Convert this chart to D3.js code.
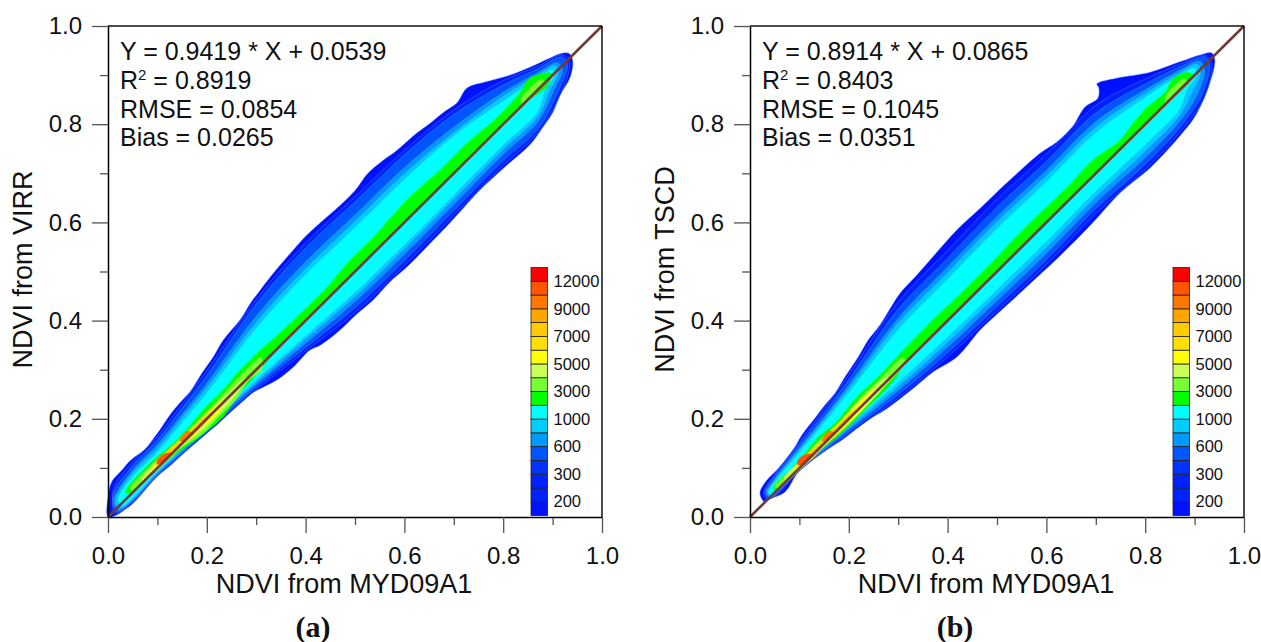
<!DOCTYPE html>
<html>
<head>
<meta charset="utf-8">
<style>
body { margin: 0; background: white; }
text { font-family: "Liberation Sans", Arial, sans-serif; fill: #111; }
</style>
<script src="https://cdn.jsdelivr.net/npm/d3@7"></script>
</head>
<body>
<div id="chart"></div>
<script>
// colour key, bottom cell first
var levels = [100, 200, 250, 300, 450, 600, 800, 1000, 2000, 3000, 4000, 5000, 6000, 7000, 8000, 9000, 10500, 12000];
var levelColors = ["#0011ff", "#0022ff", "#0022ff", "#0033ff", "#0055ff", "#0099ff", "#00ccff", "#00ffff", "#00ff00",
	"#77ff33", "#ccff55", "#ffff00", "#ffe000", "#ffcc00", "#ffa500", "#ff7700", "#ff5500", "#ff0000"];
var keyLabels = [200, 300, 600, 1000, 3000, 5000, 7000, 9000, 12000];
var majorTicks = [0, 0.2, 0.4, 0.6, 0.8, 1];
var minorTicks = [0.1, 0.3, 0.5, 0.7, 0.9];

// panel a contours as [MYD09A1, VIRR]
var a100 = [[0,0],[0,.041],[.0075,.072],[.018,.085],[.031,.099],[.042,.112],[.055,.123],[.075,.138],[.092,.16],[.108,.182],[.1255,.208],[.145,.232],[.166,.255],[.19,.293],[.213,.326],[.233,.36],[.267,.401],[.288,.435],[.308,.462],[.34,.503],[.375,.544],[.4,.572],[.429,.599],[.47,.635],[.5,.665],[.526,.7],[.555,.725],[.585,.747],[.625,.782],[.652,.802],[.68,.825],[.706,.843],[.727,.874],[.763,.886],[.814,.9],[.854,.916],[.895,.935],[.921,.945],[.935,.943],[.941,.927],[.935,.894],[.915,.859],[.901,.825],[.879,.792],[.854,.758],[.8,.71],[.753,.666],[.72,.63],[.692,.599],[.65,.555],[.605,.509],[.57,.478],[.537,.442],[.5,.41],[.47,.381],[.43,.35],[.409,.34],[.375,.305],[.342,.279],[.31,.262],[.274,.242],[.245,.212],[.22,.187],[.19,.165],[.166,.143],[.13,.108],[.099,.082],[.075,.055],[.051,.028],[.03,.012],[.018,.004]];
var a250 = [[.012,.06],[.05,.112],[.1,.164],[.15,.231],[.2,.298],[.3,.443],[.4,.558],[.5,.652],[.6,.747],[.7,.829],[.8,.889],[.87,.918],[.92,.941],[.934,.925],[.92,.87],[.87,.782],[.8,.716],[.7,.614],[.6,.512],[.5,.416],[.4,.338],[.3,.259],[.2,.17],[.15,.127],[.1,.084],[.05,.03],[.015,.006]];
var a450 = [[.01,.045],[.05,.105],[.1,.157],[.15,.222],[.2,.288],[.3,.434],[.4,.548],[.5,.642],[.6,.738],[.7,.82],[.8,.88],[.87,.913],[.92,.937],[.93,.92],[.915,.875],[.87,.79],[.8,.726],[.7,.624],[.6,.522],[.5,.426],[.4,.345],[.3,.264],[.2,.174],[.15,.13],[.1,.086],[.05,.032],[.018,.01]];
var a600 = [[.012,.035],[.05,.095],[.1,.147],[.15,.209],[.2,.272],[.3,.409],[.4,.52],[.5,.615],[.6,.712],[.7,.794],[.8,.865],[.87,.905],[.91,.925],[.92,.91],[.905,.875],[.87,.805],[.8,.739],[.7,.637],[.6,.535],[.5,.439],[.4,.354],[.3,.27],[.2,.178],[.15,.133],[.1,.088],[.05,.034],[.02,.014]];
var a800 = [[.015,.033],[.05,.09],[.1,.14],[.15,.202],[.2,.263],[.3,.396],[.4,.506],[.5,.602],[.6,.699],[.7,.783],[.8,.857],[.87,.9],[.905,.92],[.912,.905],[.895,.87],[.87,.815],[.8,.749],[.7,.647],[.6,.546],[.5,.449],[.4,.362],[.3,.275],[.2,.182],[.15,.136],[.1,.09],[.05,.036],[.025,.018]];
var a1000 = [[.02,.035],[.05,.083],[.1,.133],[.15,.193],[.2,.253],[.3,.385],[.4,.494],[.5,.59],[.6,.688],[.7,.777],[.8,.848],[.87,.893],[.9,.912],[.905,.9],[.885,.868],[.87,.825],[.8,.757],[.7,.655],[.6,.554],[.5,.457],[.4,.368],[.3,.279],[.2,.185],[.15,.138],[.1,.092],[.05,.039],[.03,.022]];
var a2000 = [[.035,.05],[.04,.061],[.085,.11],[.132,.15],[.166,.187],[.192,.218],[.233,.259],[.261,.293],[.308,.34],[.354,.381],[.403,.428],[.443,.468],[.484,.517],[.537,.57],[.605,.646],[.672,.707],[.723,.758],[.753,.784],[.787,.813],[.834,.865],[.854,.894],[.898,.904],[.891,.88],[.85,.846],[.7,.697],[.5,.497],[.35,.347],[.294,.283],[.267,.252],[.233,.204],[.186,.163],[.14,.13],[.099,.096],[.045,.049]];
var a3000lo = [[.045,.058],[.085,.104],[.13,.145],[.166,.18],[.2,.215],[.233,.25],[.27,.29],[.31,.325],[.312,.3],[.285,.278],[.26,.24],[.23,.21],[.19,.168],[.14,.135],[.1,.1],[.05,.052]];
var a3000hi = [[.835,.85],[.855,.875],[.878,.892],[.885,.885],[.86,.858],[.84,.84]];
var a4000 = [[.07,.082],[.11,.125],[.15,.16],[.19,.2],[.23,.24],[.28,.285],[.26,.25],[.2,.185],[.16,.152],[.11,.108],[.07,.072]];
var a5000 = [[.09,.098],[.12,.133],[.16,.168],[.2,.21],[.235,.24],[.225,.215],[.18,.172],[.13,.126],[.09,.09]];
var a7000 = [[.095,.105],[.12,.135],[.15,.16],[.19,.2],[.21,.215],[.2,.195],[.15,.145],[.12,.115]];
var a9000lo = [[.1,.11],[.12,.13],[.13,.13],[.115,.113]];
var a9000hi = [[.145,.155],[.16,.175],[.17,.172],[.158,.158]];
var a10500 = [[.098,.113],[.112,.128],[.125,.13],[.115,.115],[.1,.107]];

// panel b contours, [MYD09A1, TSCD]
var b100 = [[.03,.03],[.02,.048],[.03,.07],[.057,.099],[.075,.12],[.091,.143],[.105,.167],[.132,.202],[.15,.226],[.172,.252],[.192,.285],[.219,.326],[.239,.36],[.263,.391],[.304,.456],[.335,.49],[.364,.523],[.419,.585],[.466,.629],[.5,.662],[.532,.692],[.587,.741],[.621,.764],[.652,.794],[.678,.835],[.704,.853],[.706,.874],[.702,.882],[.743,.894],[.81,.906],[.87,.927],[.911,.941],[.935,.945],[.941,.931],[.931,.884],[.905,.823],[.877,.784],[.81,.711],[.749,.66],[.69,.595],[.634,.538],[.553,.462],[.5,.413],[.466,.381],[.419,.326],[.37,.295],[.334,.265],[.273,.218],[.239,.198],[.192,.161],[.146,.13],[.097,.09],[.071,.051],[.036,.035]];
var b250 = [[.028,.05],[.05,.087],[.1,.153],[.15,.22],[.2,.29],[.3,.438],[.4,.543],[.5,.647],[.6,.739],[.7,.838],[.8,.892],[.87,.922],[.92,.941],[.934,.925],[.92,.855],[.87,.783],[.8,.707],[.7,.618],[.6,.514],[.5,.419],[.4,.326],[.3,.242],[.2,.169],[.15,.134],[.1,.094],[.05,.042],[.035,.036]];
var b450 = [[.03,.05],[.05,.083],[.1,.148],[.15,.212],[.2,.28],[.3,.423],[.4,.527],[.5,.631],[.6,.724],[.7,.823],[.8,.882],[.87,.917],[.92,.937],[.93,.92],[.915,.86],[.87,.793],[.8,.718],[.7,.628],[.6,.524],[.5,.429],[.4,.334],[.3,.249],[.2,.173],[.15,.136],[.1,.095],[.05,.044],[.037,.038]];
var b600 = [[.033,.05],[.05,.078],[.1,.141],[.15,.203],[.2,.269],[.3,.405],[.4,.509],[.5,.612],[.6,.706],[.7,.805],[.8,.87],[.87,.91],[.91,.928],[.92,.91],[.905,.86],[.87,.806],[.8,.732],[.7,.64],[.6,.537],[.5,.441],[.4,.346],[.3,.258],[.2,.178],[.15,.138],[.1,.096],[.05,.046],[.04,.04]];
var b800 = [[.035,.05],[.05,.075],[.1,.137],[.15,.198],[.2,.262],[.3,.395],[.4,.498],[.5,.601],[.6,.695],[.7,.794],[.8,.863],[.87,.905],[.905,.922],[.912,.905],[.895,.865],[.87,.818],[.8,.745],[.7,.652],[.6,.549],[.5,.452],[.4,.356],[.3,.266],[.2,.182],[.15,.141],[.1,.097],[.05,.047],[.042,.042]];
var b1000 = [[.037,.05],[.05,.072],[.1,.132],[.15,.192],[.2,.254],[.3,.382],[.4,.485],[.5,.588],[.6,.683],[.7,.783],[.8,.855],[.87,.9],[.9,.915],[.905,.9],[.885,.87],[.87,.83],[.8,.758],[.7,.663],[.6,.561],[.5,.463],[.4,.366],[.3,.274],[.2,.186],[.15,.143],[.1,.098],[.05,.048],[.043,.044]];
var b2000 = [[.047,.061],[.097,.112],[.138,.163],[.172,.191],[.219,.248],[.259,.285],[.304,.334],[.344,.375],[.391,.422],[.439,.468],[.48,.509],[.532,.564],[.587,.619],[.642,.672],[.694,.727],[.749,.768],[.775,.802],[.804,.835],[.838,.863],[.858,.894],[.885,.906],[.897,.9],[.89,.885],[.85,.846],[.7,.697],[.5,.497],[.35,.347],[.32,.32],[.287,.273],[.239,.224],[.186,.171],[.138,.132],[.097,.092],[.05,.055]];
var b3000lo = [[.05,.062],[.1,.112],[.14,.157],[.175,.187],[.22,.24],[.26,.278],[.31,.325],[.315,.315],[.285,.278],[.24,.23],[.19,.178],[.14,.137],[.1,.097],[.055,.058]];
var b3000hi = [[.84,.855],[.858,.878],[.88,.893],[.885,.885],[.86,.858],[.842,.84]];
var b4000 = [[.07,.082],[.11,.122],[.15,.163],[.19,.203],[.23,.245],[.28,.288],[.27,.265],[.21,.2],[.16,.155],[.11,.107],[.07,.07]];
var b5000 = [[.09,.1],[.12,.13],[.16,.17],[.2,.213],[.25,.258],[.24,.235],[.19,.182],[.13,.125],[.09,.09]];
var b7000 = [[.095,.105],[.12,.133],[.15,.16],[.19,.2],[.215,.22],[.205,.2],[.15,.145],[.12,.113]];
var b9000lo = [[.1,.11],[.118,.128],[.13,.128],[.115,.112]];
var b9000hi = [[.145,.155],[.16,.175],[.17,.172],[.158,.158]];
var b10500 = [[.095,.113],[.11,.127],[.123,.128],[.112,.112],[.098,.105]];

// regression text
var statsA = ["Y = 0.9419 * X + 0.0539", "0.8919", "RMSE = 0.0854", "Bias = 0.0265"];
var statsB = ["Y = 0.8914 * X + 0.0865", "0.8403", "RMSE = 0.1045", "Bias = 0.0351"];

var svg = d3.select('#chart').append('svg')
	.attr('width', 1261)
	.attr('height', 642);

svg.append("rect")
	.attr('width', 1261)
	.attr('height', 642)
	.attr('fill', "white");

var size = 494, plotH = 491, plotTop = 26;
var x = d3.scaleLinear().domain([0, 1]).range([0, size]);
var y = d3.scaleLinear().domain([0, 1]).range([plotH, 0]);
var keyY = d3.scaleBand().domain(levels.slice().reverse()).range([241.5, 489.5]);

var contour = d3.line()
	.x(function (d) { return x(d[0]); })
	.y(function (d) { return y(d[1]); })
	.curve(d3.curveCatmullRomClosed.alpha(0.5));

function drawPanel(left, bands, stats, yTitle, letter) {
	var g = svg.append("g").attr("transform", "translate(" + left + "," + plotTop + ")");

	// filled contours, outermost first
	g.append("g").selectAll("path")
		.data(bands)
		.enter().append("path")
		.attr("d", function (d) { return contour(d[1]); })
		.attr("fill", function (d) { return levelColors[levels.indexOf(d[0])]; })
		.attr("stroke", function (d) { return d[0] < 2000 ? "#5f9bff" : "none"; })
		.attr("stroke-width", 0.4);

	// 1:1 line
	g.append("line")
		.attr("x1", x(0)).attr("y1", y(0))
		.attr("x2", x(1)).attr("y2", y(1))
		.style("stroke", "#6e3b36")
		.style("stroke-width", 2.6);

	// frame top and right
	g.append("line").attr("x1", 0).attr("x2", size).attr("y1", 0).attr("y2", 0)
		.style("stroke", "#111").style("stroke-width", 1.5);
	g.append("line").attr("x1", size).attr("x2", size).attr("y1", 0).attr("y2", plotH)
		.style("stroke", "#111").style("stroke-width", 1.5);

	// minor ticks, no labels
	g.append("g").attr("class", "minor").attr("transform", "translate(0," + plotH + ")")
		.call(d3.axisBottom(x).tickValues(minorTicks).tickSize(8).tickFormat(""));
	g.append("g").attr("class", "minor")
		.call(d3.axisLeft(y).tickValues(minorTicks).tickSize(8).tickFormat(""));

	var xAxis = g.append("g").attr("transform", "translate(0," + plotH + ")")
		.call(d3.axisBottom(x).tickValues(majorTicks).tickSize(16).tickSizeOuter(0).tickFormat(d3.format(".1f")));
	xAxis.selectAll("text").attr("y", 47).attr("dy", 0).style("font-size", "24px");

	var yAxis = g.append("g")
		.call(d3.axisLeft(y).tickValues(majorTicks).tickSize(16).tickSizeOuter(0).tickFormat(d3.format(".1f")));
	yAxis.selectAll("text").attr("x", -26).style("font-size", "24px");

	g.selectAll(".domain").style("stroke", "#000").style("stroke-width", 1.5);
	g.selectAll(".tick line").style("stroke", "#555").style("stroke-width", 1.3);
	g.selectAll(".minor .domain").remove();

	g.append("text")
		.attr("x", size / 2 - 11).attr("y", plotH + 76)
		.attr("text-anchor", "middle")
		.style("font-size", "27px")
		.text("NDVI from MYD09A1");

	g.append("text")
		.attr("transform", "translate(-76," + (plotH / 2 - 2) + ") rotate(-90)")
		.attr("text-anchor", "middle")
		.style("font-size", "27px")
		.text(yTitle);

	// stats block
	var notes = g.append("g").style("font-size", "25px");
	notes.append("text").attr("x", 12).attr("y", 34).text(stats[0]);
	var r2 = notes.append("text").attr("x", 12).attr("y", 63);
	r2.append("tspan").text("R");
	r2.append("tspan").attr("dy", -9).style("font-size", "15px").text("2");
	r2.append("tspan").attr("dy", 9).text(" = " + stats[1]);
	notes.append("text").attr("x", 12).attr("y", 92).text(stats[2]);
	notes.append("text").attr("x", 12).attr("y", 120).text(stats[3]);

	// colour key
	var key = g.append("g").attr("transform", "translate(423,0)");
	key.selectAll("rect")
		.data(levels)
		.enter().append("rect")
		.attr("x", 0)
		.attr("y", function (d) { return keyY(d); })
		.attr("width", 16.5)
		.attr("height", keyY.bandwidth())
		.attr("fill", function (d, i) { return levelColors[i]; })
		.attr("stroke", "#222")
		.attr("stroke-width", 0.8);
	key.selectAll("text")
		.data(keyLabels)
		.enter().append("text")
		.attr("x", 22.5)
		.attr("y", function (d) { return keyY(d) + keyY.bandwidth(); })
		.attr("dy", "0.35em")
		.style("font-size", "16.5px")
		.text(function (d) { return d; });

	svg.append("text")
		.attr("x", left + size / 2 - 42).attr("y", 637)
		.attr("text-anchor", "middle")
		.style("font-family", "'Liberation Serif', serif")
		.style("font-size", "30px")
		.style("font-weight", "bold")
		.text("(" + letter + ")");
}

drawPanel(108, [[100, a100], [250, a250], [450, a450], [600, a600], [800, a800], [1000, a1000], [2000, a2000],
	[3000, a3000lo], [3000, a3000hi], [4000, a4000], [5000, a5000], [7000, a7000], [9000, a9000lo], [9000, a9000hi], [10500, a10500]],
	statsA, "NDVI from VIRR", "a");
drawPanel(750, [[100, b100], [250, b250], [450, b450], [600, b600], [800, b800], [1000, b1000], [2000, b2000],
	[3000, b3000lo], [3000, b3000hi], [4000, b4000], [5000, b5000], [7000, b7000], [9000, b9000lo], [9000, b9000hi], [10500, b10500]],
	statsB, "NDVI from TSCD", "b");
</script>
</body>
</html>
